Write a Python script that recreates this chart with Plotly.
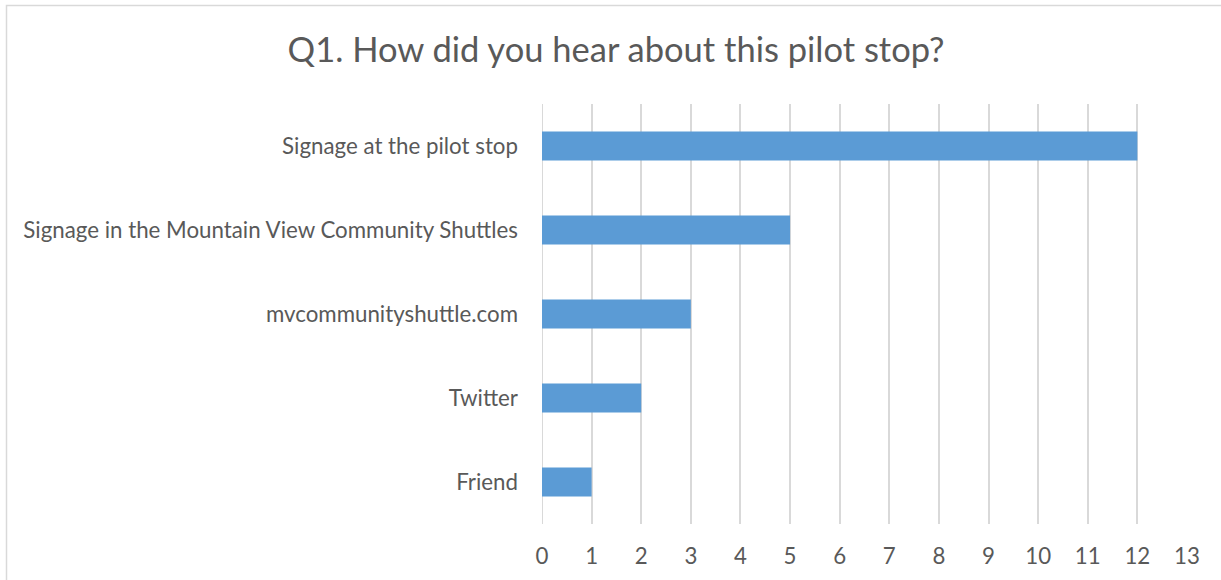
import plotly.graph_objects as go

# Survey responses: how riders heard about the pilot stop
categories = [
    "Friend",
    "Twitter",
    "mvcommunityshuttle.com",
    "Signage in the Mountain View Community Shuttles",
    "Signage at the pilot stop",
]
responses = [1, 2, 3, 5, 12]
x_ticks = list(range(0, 14))

W, H = 1221, 580
L, R, T, B = 542, 34, 104, 56
pw, ph = W - L - R, H - T - B

text_color = "#595959"
grid_color = "#d9d9d9"
bar_color = "#5b9bd5"
font_family = "Lato, 'Open Sans', sans-serif"

fig = go.Figure(
    go.Bar(
        x=responses,
        y=categories,
        orientation="h",
        marker=dict(color=bar_color, line=dict(width=0)),
        width=0.345,
        hoverinfo="x+y",
    )
)

# outer chart frame (runs off the right and bottom edges)
def px_x(px):
    return (px - L) / pw

def px_y(py):
    return (H - B - py) / ph

fig.add_shape(
    type="rect", xref="paper", yref="paper",
    x0=px_x(6.5), x1=px_x(W + 10), y0=px_y(H + 10), y1=px_y(5.5),
    line=dict(color=grid_color, width=1.5), fillcolor="rgba(0,0,0,0)",
    layer="below",
)

fig.update_layout(
    width=W, height=H,
    margin=dict(l=L, r=R, t=T, b=B, pad=0),
    paper_bgcolor="white", plot_bgcolor="white",
    showlegend=False,
    font=dict(family=font_family, color=text_color),
    title=dict(
        text="Q1. How did you hear about this pilot stop?",
        font=dict(size=34.5, color=text_color, family=font_family),
        xref="container", yref="container",
        x=616 / W, xanchor="center",
        y=1 - 50 / H, yanchor="middle",
    ),
    xaxis=dict(
        range=[0, 13],
        tickvals=x_ticks,
        ticktext=[str(v) for v in x_ticks],
        showgrid=True, gridcolor=grid_color, gridwidth=2,
        zeroline=False, showline=False, ticks="",
        tickfont=dict(size=22.3, color=text_color),
        ticklabelstandoff=17,
        fixedrange=True,
    ),
    yaxis=dict(
        categoryorder="array", categoryarray=categories,
        showgrid=False, zeroline=False, showline=False, ticks="",
        tickfont=dict(size=22.3, color=text_color),
        ticklabelstandoff=23,
        range=[-0.5, len(categories) - 0.5],
        fixedrange=True,
    ),
    bargap=0.655,
)

# first gridline at 0 drawn like the rest
fig.add_shape(
    type="line", xref="x", yref="paper", x0=0, x1=0, y0=0, y1=1,
    line=dict(color=grid_color, width=2), layer="below",
)

fig.write_html("out.html")
